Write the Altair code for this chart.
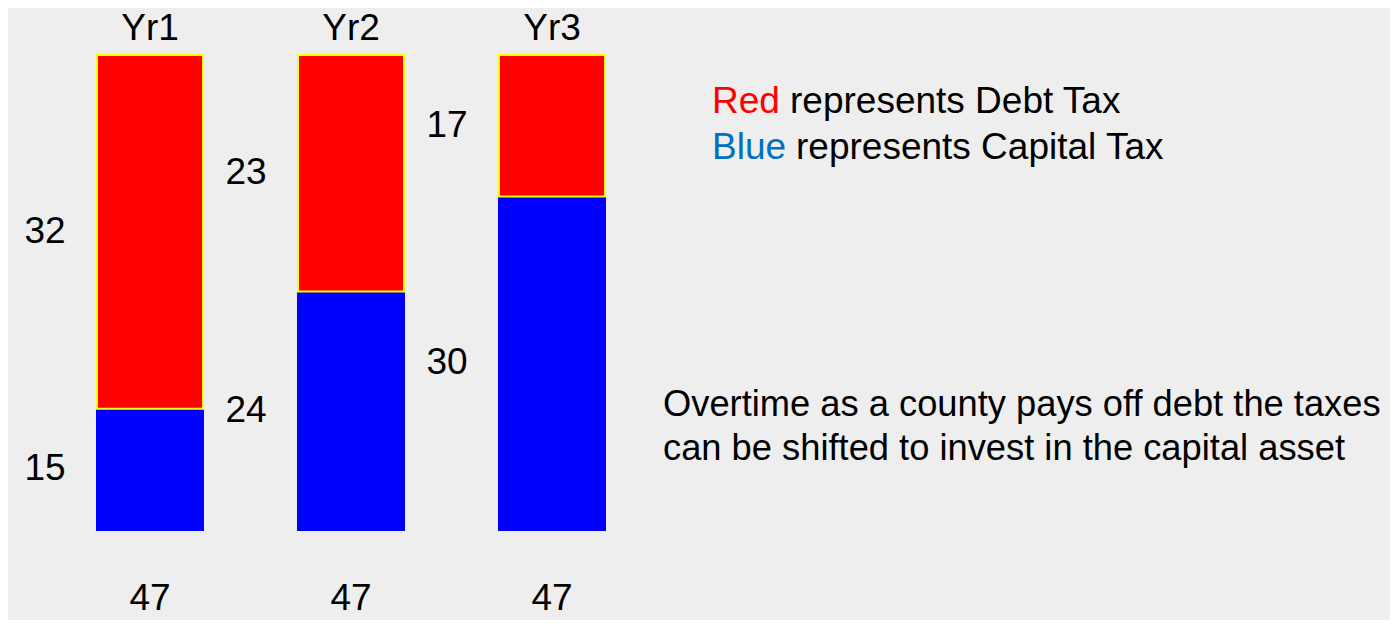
import altair as alt
import pandas as pd

# ---- data ----
years = ["Yr1", "Yr2", "Yr3"]
# heights of the drawn segments (estimated from the bars themselves)
capital_drawn = [12.0, 23.6, 33.0]
debt_drawn = [35.0, 23.4, 14.0]
# the numbers written next to the bars
capital_labels = ["15", "24", "30"]
debt_labels = ["32", "23", "17"]
totals = ["47", "47", "47"]

legend_lines = [("Red", " represents Debt Tax"), ("Blue", " represents Capital Tax")]
note_lines = ["Overtime as a county pays off debt the taxes",
              "can be shifted to invest in the capital asset"]

rows = []
for i, y in enumerate(years):
    rows.append({"year": y, "component": "Capital", "order": 0,
                 "value": capital_drawn[i], "label": capital_labels[i]})
for i, y in enumerate(years):
    rows.append({"year": y, "component": "Debt", "order": 1,
                 "value": debt_drawn[i], "label": debt_labels[i]})
df = pd.DataFrame(rows)
tot_df = pd.DataFrame({"year": years, "total": totals})

FONT = "Liberation Sans"
FS = 37
W, H = 508, 475

x_enc = alt.X("year:N", sort=years,
              scale=alt.Scale(paddingInner=0.4726, paddingOuter=0),
              axis=alt.Axis(orient="top", title=None, domain=False, ticks=False,
                            tickSize=0, labelAngle=0, labelFontSize=FS,
                            labelFont=FONT, labelColor="#000000", labelPadding=8,
                            grid=False))
y_scale = alt.Scale(domain=[0, 47], nice=False, zero=True)

base = alt.Chart(df).transform_stack(
    stack="value", groupby=["year"], as_=["v0", "v1"],
    sort=[alt.SortField("order", order="ascending")]
).transform_calculate(mid="(datum.v0 + datum.v1) / 2")

bars = base.mark_bar(strokeWidth=2).encode(
    x=x_enc,
    y=alt.Y("v0:Q", scale=y_scale, axis=None),
    y2="v1:Q",
    color=alt.Color("component:N", scale=alt.Scale(domain=["Capital", "Debt"],
                    range=["#0000FF", "#FF0000"]), legend=None),
    stroke=alt.Stroke("component:N", scale=alt.Scale(domain=["Capital", "Debt"],
                      range=["#0000FF", "#FFFF00"]), legend=None),
    order=alt.Order("order:Q"),
)

seg_text = base.mark_text(font=FONT, fontSize=FS, color="#000000",
                          align="center", baseline="middle", dx=-105).encode(
    x=alt.X("year:N", sort=years),
    y=alt.Y("mid:Q", scale=y_scale, axis=None),
    text="label:N",
)

tot_text = alt.Chart(tot_df).mark_text(font=FONT, fontSize=FS, color="#000000",
                                       align="center", baseline="alphabetic",
                                       dy=80).encode(
    x=alt.X("year:N", sort=years),
    y=alt.Y(datum=0, scale=y_scale, axis=None),
    text="total:N",
)

annot = []
leg_y = [58, 104]
leg_x2 = [693, 699]
for (word, rest), yy, x2, col in zip(legend_lines, leg_y, leg_x2, ["#FF0000", "#0070C0"]):
    annot.append(alt.Chart(tot_df).transform_filter("datum.year == 'Yr1'").mark_text(
        font=FONT, fontSize=FS, color=col, align="left", baseline="alphabetic").encode(
        x=alt.value(615), y=alt.value(yy), text=alt.value(word)))
    annot.append(alt.Chart(tot_df).transform_filter("datum.year == 'Yr1'").mark_text(
        font=FONT, fontSize=FS, color="#000000", align="left", baseline="alphabetic").encode(
        x=alt.value(x2), y=alt.value(yy), text=alt.value(rest)))
for line, yy in zip(note_lines, [361, 405]):
    annot.append(alt.Chart(tot_df).transform_filter("datum.year == 'Yr1'").mark_text(
        font=FONT, fontSize=36.3, color="#000000", align="left", baseline="alphabetic").encode(
        x=alt.value(566), y=alt.value(yy), text=alt.value(line)))

chart = alt.layer(bars, seg_text, tot_text, *annot).properties(
    width=W, height=H,
    autosize=alt.AutoSizeParams(type="none"),
    padding={"left": 89, "top": 47, "right": 785, "bottom": 90},
    background="#EEEEEE",
).configure_view(stroke=None)

chart.save("out.html", embed_options={"renderer": "svg", "actions": False})
